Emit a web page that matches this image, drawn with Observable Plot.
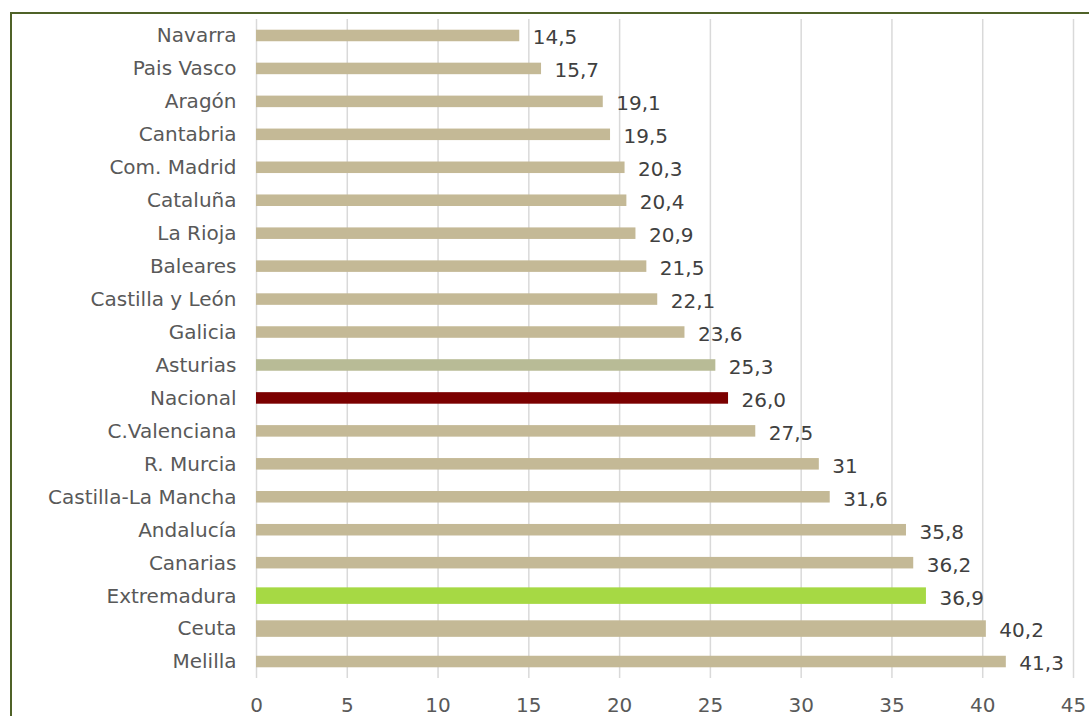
<!DOCTYPE html>
<html><head><meta charset="utf-8">
<script src="https://cdn.jsdelivr.net/npm/d3@7"></script>
<script src="https://cdn.jsdelivr.net/npm/@observablehq/plot@0.6"></script>
<style>
html,body{margin:0;padding:0;background:#fff;overflow:hidden}
#wrap{position:relative;width:1089px;height:716px}
#border{position:absolute;left:10px;top:12px;width:1100px;height:720px;border-left:2px solid #4f6228;border-top:2px solid #4f6228;pointer-events:none}
svg{font-family:"DejaVu Sans",Verdana,sans-serif}
</style></head>
<body><div id="wrap"><div id="border"></div><div id="chart"></div></div>
<script>
const regions = ["Navarra","Pais Vasco","Aragón","Cantabria","Com. Madrid","Cataluña","La Rioja","Baleares","Castilla y León","Galicia","Asturias","Nacional","C.Valenciana","R. Murcia","Castilla-La Mancha","Andalucía","Canarias","Extremadura","Ceuta","Melilla"];
const values = [14.5,15.7,19.1,19.5,20.3,20.4,20.9,21.5,22.1,23.6,25.3,26.0,27.5,31,31.6,35.8,36.2,36.9,40.2,41.3];
const valueLabels = ["14,5","15,7","19,1","19,5","20,3","20,4","20,9","21,5","22,1","23,6","25,3","26,0","27,5","31","31,6","35,8","36,2","36,9","40,2","41,3"];
const colors = ["#c4b996","#c4b996","#c4b996","#c4b996","#c4b996","#c4b996","#c4b996","#c4b996","#c4b996","#c4b996","#b8bb96","#7b0000","#c4b996","#c4b996","#c4b996","#c4b996","#c4b996","#a6d944","#c4b996","#c4b996"];
const thickBars = ["Extremadura","Ceuta"];
const xTicks = [0,5,10,15,20,25,30,35,40,45];

const data = regions.map((r,i)=>({region:r, value:values[i], label:valueLabels[i], color:colors[i]}));

const chart = Plot.plot({
  width:1089, height:716,
  marginLeft:256, marginRight:16, marginTop:19, marginBottom:38,
  style:{fontFamily:'"DejaVu Sans",Verdana,sans-serif', fontSize:"20px", color:"#595959", background:"transparent"},
  x:{domain:[0,45], ticks:xTicks, tickSize:0, tickPadding:19, label:null},
  y:{domain:regions, paddingInner:0.65, paddingOuter:0.325, round:false, tickSize:0, tickPadding:20, label:null},
  marks:[
    Plot.ruleX(xTicks, {stroke:"#d9d9d9", strokeWidth:1.5}),
    Plot.barX(data, {filter:d=>!thickBars.includes(d.region), x:"value", y:"region", fill:"color"}),
    Plot.barX(data, {filter:d=>thickBars.includes(d.region), x:"value", y:"region", fill:"color", insetTop:-2.5, insetBottom:-2.5}),
    Plot.text(data, {x:"value", y:"region", text:"label", dx:13, textAnchor:"start", fill:"#404040", fontSize:20, dy:2})
  ]
});
document.getElementById("chart").appendChild(chart);
</script></body></html>
